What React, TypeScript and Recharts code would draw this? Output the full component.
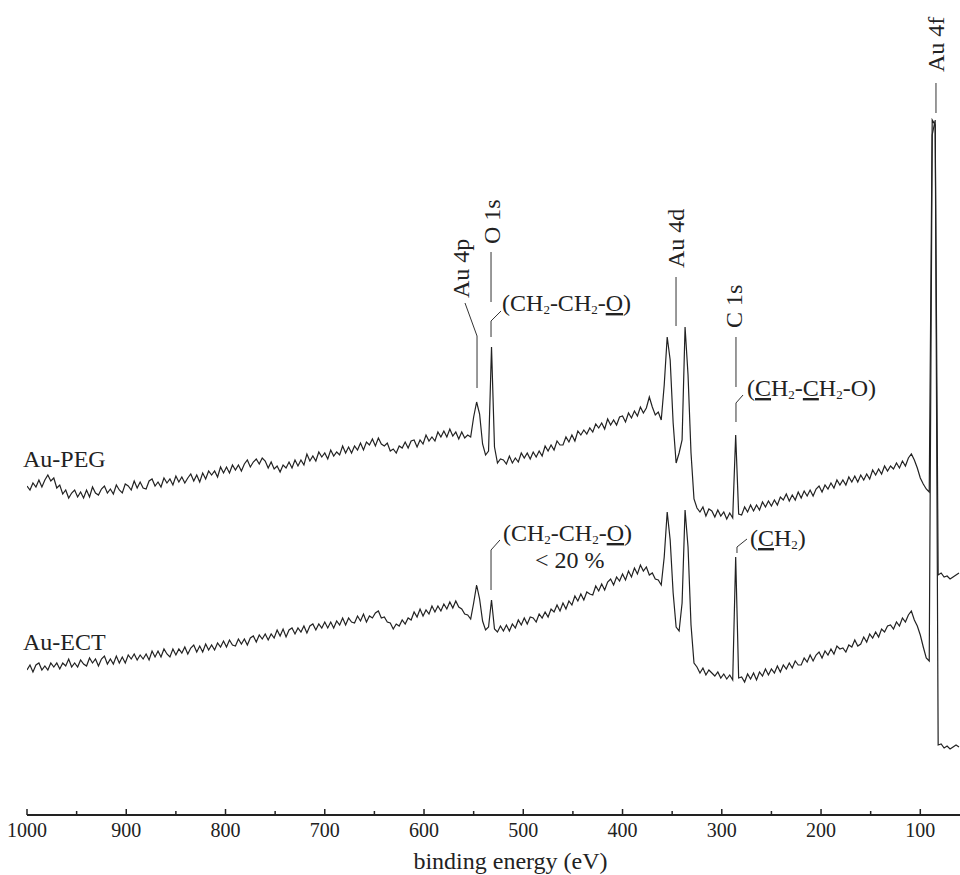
import React from 'react';
import { LineChart, Line, XAxis, YAxis, ReferenceLine, ReferenceDot, Label } from 'recharts';

const SERIF = '"Liberation Serif", "Times New Roman", serif';
const INK = '#222';

// sampling grid of the survey scan (eV), 3 eV steps from 1000 down to 61
const energy = Array.from({ length: 314 }, (_, i) => 1000 - 3 * i);

// intensities (arbitrary units, offset traces)
const pegCounts = [
  329, 325, 332, 328, 335, 328, 335, 340, 334, 337,
  327, 330, 321, 325, 317, 322, 325, 318, 323, 317,
  325, 318, 328, 322, 320, 326, 329, 322, 326, 321,
  330, 325, 322, 331, 329, 325, 334, 327, 333, 327,
  326, 334, 336, 329, 333, 328, 337, 332, 336, 330,
  339, 333, 338, 332, 337, 341, 334, 340, 333, 342,
  336, 344, 340, 344, 338, 348, 342, 348, 342, 350,
  345, 350, 344, 351, 355, 348, 353, 356, 351, 357,
  354, 347, 353, 346, 349, 343, 350, 347, 353, 347,
  355, 349, 355, 350, 361, 354, 359, 354, 363, 358,
  362, 356, 365, 359, 363, 360, 369, 362, 368, 362,
  369, 365, 372, 365, 373, 370, 376, 369, 377, 371,
  369, 372, 364, 366, 362, 369, 367, 373, 367, 374,
  375, 368, 375, 371, 380, 374, 378, 374, 383, 378,
  384, 378, 386, 379, 383, 376, 383, 377, 380, 378,
  398, 413, 401, 371, 360, 364, 468, 368, 352, 356,
  355, 351, 359, 352, 357, 353, 362, 357, 362, 356,
  363, 358, 364, 359, 369, 364, 370, 365, 374, 370,
  370, 378, 373, 380, 374, 384, 380, 385, 381, 387,
  383, 391, 387, 392, 386, 396, 390, 395, 390, 398,
  399, 393, 402, 397, 404, 399, 408, 402, 407, 418,
  408, 400, 403, 395, 430, 478, 455, 392, 352, 362,
  375, 488, 440, 362, 316, 307, 303, 308, 299, 306,
  304, 298, 305, 299, 303, 296, 302, 297, 380, 301,
  300, 308, 303, 310, 304, 310, 305, 313, 308, 314,
  309, 315, 310, 318, 315, 321, 314, 320, 315, 323,
  317, 324, 319, 325, 319, 326, 329, 323, 330, 326,
  332, 327, 335, 330, 335, 330, 338, 333, 339, 333,
  340, 335, 341, 336, 345, 340, 346, 341, 349, 344,
  349, 346, 352, 347, 354, 349, 357, 361, 355, 347,
  337, 331, 326, 323, 695, 690, 240, 242, 238, 239,
  236, 238, 240, 242,
];

const ectCounts = [
  145, 150, 143, 150, 152, 145, 149, 145, 152, 148,
  152, 146, 152, 149, 156, 148, 152, 148, 155, 151,
  149, 157, 152, 156, 149, 156, 159, 151, 156, 151,
  159, 152, 158, 152, 160, 156, 161, 155, 160, 156,
  161, 155, 164, 158, 164, 158, 166, 161, 158, 166,
  160, 166, 162, 168, 161, 167, 170, 163, 169, 163,
  171, 165, 170, 165, 172, 168, 174, 168, 175, 170,
  169, 176, 171, 176, 170, 177, 179, 173, 180, 176,
  181, 175, 181, 177, 185, 179, 186, 178, 185, 187,
  181, 187, 183, 189, 182, 189, 191, 185, 191, 187,
  193, 187, 193, 187, 194, 190, 197, 190, 197, 193,
  192, 199, 194, 201, 193, 199, 197, 202, 204, 197,
  198, 193, 192, 186, 191, 189, 195, 191, 197, 195,
  203, 198, 206, 199, 205, 201, 209, 203, 209, 204,
  211, 206, 213, 207, 214, 208, 206, 201, 200, 196,
  212, 230, 216, 194, 185, 188, 215, 186, 183, 189,
  184, 190, 184, 191, 187, 195, 190, 197, 191, 198,
  197, 193, 201, 197, 203, 198, 206, 203, 210, 204,
  212, 206, 214, 210, 219, 214, 221, 215, 223, 221,
  220, 229, 224, 231, 225, 233, 236, 230, 238, 234,
  241, 235, 244, 238, 247, 241, 250, 244, 248, 240,
  242, 236, 235, 230, 258, 303, 275, 222, 188, 184,
  212, 305, 268, 190, 152, 148, 142, 147, 140, 145,
  142, 139, 143, 137, 141, 136, 140, 135, 258, 137,
  138, 133, 141, 136, 142, 135, 143, 139, 146, 140,
  146, 142, 149, 143, 150, 146, 152, 147, 154, 150,
  150, 157, 153, 160, 154, 160, 163, 157, 164, 160,
  166, 161, 169, 166, 167, 163, 170, 168, 175, 169,
  171, 178, 173, 181, 177, 183, 178, 186, 183, 189,
  190, 186, 193, 189, 197, 193, 200, 204, 195, 189,
  180, 168, 157, 154, 680, 695, 70, 71, 67, 69,
  66, 68, 70, 68,
];

const majorTicks = [1000, 900, 800, 700, 600, 500, 400, 300, 200, 100];
const minorTicks = [950, 850, 750, 650, 550, 450, 350, 250, 150];

// leader lines, in data units: [e1, v1, e2, v2]
const leaders = [
  [558.7, 512, 546.6, 479], [546.6, 479, 546.6, 427], // Au 4p
  [532.5, 563, 532.5, 513], // O 1s
  [522.4, 504, 532.5, 494], [532.5, 494, 532.5, 478],
  [523.5, 275, 532.5, 265], [532.5, 265, 532.5, 225],
  [346.1, 538, 346.1, 489], // Au 4d
  [285.7, 478, 285.7, 428], // C 1s
  [278.6, 420, 285.7, 412], [285.7, 412, 285.7, 393],
  [274.6, 276, 284.7, 268], [284.7, 268, 284.7, 262],
  [84.2, 732, 84.2, 702], // Au 4f
];

// rotated peak names: anchor = start of text (baseline)
const peakNames = [
  { e: 554.7, v: 517, text: 'Au 4p' },
  { e: 523.5, v: 571, text: 'O 1s' },
  { e: 338.1, v: 547, text: 'Au 4d' },
  { e: 279.6, v: 487, text: 'C 1s' },
  { e: 76.1, v: 743, text: 'Au 4f' },
];

type Part = { t: string; sub?: boolean; u?: boolean };
const groupLabels: { e: number; v: number; parts: Part[] }[] = [
  { e: 1004, v: 348, parts: [{ t: 'Au-PEG' }] },
  { e: 1004, v: 165, parts: [{ t: 'Au-ECT' }] },
  {
    e: 521.4, v: 504,
    parts: [{ t: '(CH' }, { t: '2', sub: true }, { t: '-CH' }, { t: '2', sub: true }, { t: '-' }, { t: 'O', u: true }, { t: ')' }],
  },
  {
    e: 520.4, v: 274,
    parts: [{ t: '(CH' }, { t: '2', sub: true }, { t: '-CH' }, { t: '2', sub: true }, { t: '-' }, { t: 'O', u: true }, { t: ')' }],
  },
  { e: 488.2, v: 247, parts: [{ t: '< 20 %' }] },
  {
    e: 274.6, v: 419,
    parts: [{ t: '(' }, { t: 'C', u: true }, { t: 'H' }, { t: '2', sub: true }, { t: '-' }, { t: 'C', u: true }, { t: 'H' }, { t: '2', sub: true }, { t: '-O)' }],
  },
  { e: 271.6, v: 269, parts: [{ t: '(' }, { t: 'C', u: true }, { t: 'H' }, { t: '2', sub: true }, { t: ')' }] },
];

const data = energy.map((e, i) => ({ energy: e, peg: pegCounts[i], ect: ectCounts[i] }));

const EnergyTick = ({ x, y, payload }: any) => {
  const major = payload.value % 100 === 0;
  return (
    <g>
      <line x1={x} x2={x} y1={y} y2={y - (major ? 6 : 4)} stroke={INK} strokeWidth={1.5} />
      {major && (
        <text x={x} y={y + 22} textAnchor="middle" fontFamily={SERIF} fontSize={20} fill={INK}>
          {payload.value}
        </text>
      )}
    </g>
  );
};

const renderParts = (parts: Part[]) => {
  let shift = 0;
  return parts.map((p, i) => {
    const target = p.sub ? 3 : 0;
    const dy = target - shift;
    shift = target;
    return (
      <tspan
        key={i}
        dy={dy}
        fontSize={p.sub ? 13 : 24}
        style={p.u ? { textDecoration: 'underline' } : undefined}
      >
        {p.t}
      </tspan>
    );
  });
};

export default function App() {
  return (
    <div style={{ position: 'absolute', left: 0, top: 0, width: 960, height: 875, background: '#fff' }}>
      <LineChart width={960} height={875} data={data} margin={{ top: 15, right: 0, bottom: 0, left: 27 }}>
        <XAxis
          dataKey="energy"
          type="number"
          domain={[60, 1000]}
          reversed
          allowDataOverflow
          ticks={[...majorTicks, ...minorTicks].sort((a, b) => b - a)}
          interval={0}
          height={60}
          tickSize={0}
          tickMargin={0}
          tickLine={false}
          axisLine={{ stroke: INK, strokeWidth: 2 }}
          tick={<EnergyTick />}
        >
          <Label
            value="binding energy (eV)"
            position="insideBottom"
            offset={6}
            dx={17}
            fontFamily={SERIF}
            fontSize={24}
            fill={INK}
          />
        </XAxis>
        <YAxis hide type="number" domain={[0, 800]} />
        <Line type="linear" dataKey="peg" stroke={INK} strokeWidth={1.2} dot={false} isAnimationActive={false} />
        <Line type="linear" dataKey="ect" stroke={INK} strokeWidth={1.2} dot={false} isAnimationActive={false} />
        {leaders.map(([e1, v1, e2, v2], i) => (
          <ReferenceLine
            key={`l${i}`}
            segment={[{ x: e1, y: v1 }, { x: e2, y: v2 }]}
            stroke="#333"
            strokeWidth={1}
            ifOverflow="visible"
          />
        ))}
        {peakNames.map((p, i) => (
          <ReferenceDot
            key={`p${i}`}
            x={p.e}
            y={p.v}
            r={0}
            ifOverflow="visible"
            shape={({ cx, cy }: any) => (
              <text
                transform={`translate(${cx},${cy}) rotate(-90)`}
                fontFamily={SERIF}
                fontSize={24}
                fill={INK}
              >
                {p.text}
              </text>
            )}
          />
        ))}
        {groupLabels.map((g, i) => (
          <ReferenceDot
            key={`g${i}`}
            x={g.e}
            y={g.v}
            r={0}
            ifOverflow="visible"
            shape={({ cx, cy }: any) => (
              <text x={cx} y={cy} fontFamily={SERIF} fontSize={24} fill={INK}>
                {renderParts(g.parts)}
              </text>
            )}
          />
        ))}
      </LineChart>
    </div>
  );
}
